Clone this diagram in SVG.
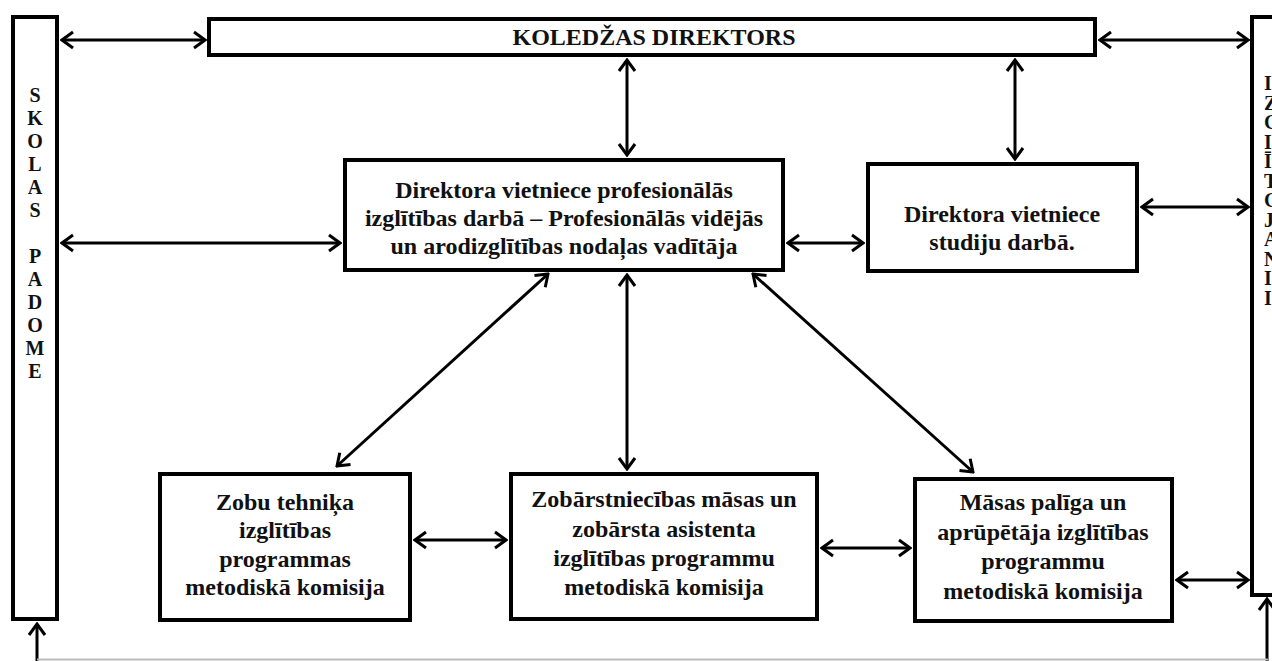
<svg xmlns="http://www.w3.org/2000/svg" width="1272" height="661" viewBox="0 0 1272 661">
<style>
.box{fill:#fff;stroke:#000;stroke-width:4}
.t{font-family:"Liberation Serif","Times New Roman",serif;font-weight:bold;font-size:24px;fill:#111;text-anchor:middle}
.v{font-family:"Liberation Serif","Times New Roman",serif;font-weight:bold;font-size:20px;fill:#111;text-anchor:middle}
.r{font-family:"Liberation Serif","Times New Roman",serif;font-weight:bold;font-size:20px;fill:#111}
.c{fill:none;stroke:#000;stroke-width:3}
</style>
<defs>
<marker id="ah" viewBox="-13 -10 15 20" refX="0" refY="0" markerWidth="15" markerHeight="20" markerUnits="userSpaceOnUse" orient="auto-start-reverse">
<path d="M-11,-8 L0,0 L-11,8" fill="none" stroke="#000" stroke-width="3"/>
</marker>
</defs>
<rect width="1272" height="661" fill="#fff"/>

<g id="connectors">
<line class="c" x1="62" y1="40" x2="205" y2="40" marker-start="url(#ah)" marker-end="url(#ah)"/>
<line class="c" x1="1100" y1="40" x2="1248" y2="40" marker-start="url(#ah)" marker-end="url(#ah)"/>
<line class="c" x1="627" y1="60" x2="627" y2="155" marker-start="url(#ah)" marker-end="url(#ah)"/>
<line class="c" x1="1015" y1="60" x2="1015" y2="159" marker-start="url(#ah)" marker-end="url(#ah)"/>
<line class="c" x1="62" y1="243" x2="340" y2="243" marker-start="url(#ah)" marker-end="url(#ah)"/>
<line class="c" x1="788" y1="243" x2="863" y2="243" marker-start="url(#ah)" marker-end="url(#ah)"/>
<line class="c" x1="1142" y1="207" x2="1248" y2="207" marker-start="url(#ah)" marker-end="url(#ah)"/>
<line class="c" x1="548" y1="274" x2="337" y2="466" marker-start="url(#ah)" marker-end="url(#ah)"/>
<line class="c" x1="627" y1="275" x2="627" y2="469" marker-start="url(#ah)" marker-end="url(#ah)"/>
<line class="c" x1="753" y1="274" x2="973" y2="472" marker-start="url(#ah)" marker-end="url(#ah)"/>
<line class="c" x1="415" y1="540" x2="506" y2="540" marker-start="url(#ah)" marker-end="url(#ah)"/>
<line class="c" x1="822" y1="548" x2="910" y2="548" marker-start="url(#ah)" marker-end="url(#ah)"/>
<line class="c" x1="1177" y1="580" x2="1248" y2="580" marker-start="url(#ah)" marker-end="url(#ah)"/>
<line class="c" x1="37" y1="661" x2="37" y2="624" marker-end="url(#ah)"/>
<line class="c" x1="1267" y1="661" x2="1267" y2="599" marker-end="url(#ah)"/>
<line x1="37" y1="659.5" x2="1268" y2="659.5" stroke="#bbb" stroke-width="2"/>
</g>

<g id="skolas-padome">
<rect class="box" x="13" y="17" width="44" height="602"/>
<text class="v" x="35" y="102">S</text>
<text class="v" x="35" y="125">K</text>
<text class="v" x="35" y="148">O</text>
<text class="v" x="35" y="171">L</text>
<text class="v" x="35" y="194">A</text>
<text class="v" x="35" y="217">S</text>
<text class="v" x="35" y="263">P</text>
<text class="v" x="35" y="286">A</text>
<text class="v" x="35" y="309">D</text>
<text class="v" x="35" y="332">O</text>
<text class="v" x="35" y="355">M</text>
<text class="v" x="35" y="378">E</text>
</g>

<g id="direktors">
<rect class="box" x="209" y="19" width="886" height="36"/>
<text class="t" x="654" y="45">KOLEDŽAS DIREKTORS</text>
</g>

<g id="right-box">
<rect class="box" x="1252" y="17" width="40" height="578"/>
<text class="r" x="1264" y="90">I</text>
<text class="r" x="1264" y="110">Z</text>
<text class="r" x="1264" y="129">G</text>
<text class="r" x="1264" y="149">I</text>
<text class="r" x="1264" y="168">Ī</text>
<text class="r" x="1264" y="188">T</text>
<text class="r" x="1264" y="207">G</text>
<text class="r" x="1264" y="227">J</text>
<text class="r" x="1264" y="246">A</text>
<text class="r" x="1264" y="266">N</text>
<text class="r" x="1264" y="285">I</text>
<text class="r" x="1264" y="305">I</text>
</g>

<g id="vietniece-prof">
<rect class="box" x="345" y="160" width="438" height="110"/>
<text class="t" x="564" y="198">Direktora vietniece profesionālās</text>
<text class="t" x="564" y="226">izglītības darbā – Profesionālās vidējās</text>
<text class="t" x="564" y="254">un arodizglītības nodaļas vadītāja</text>
</g>

<g id="vietniece-studiju">
<rect class="box" x="868" y="164" width="269" height="107"/>
<text class="t" x="1002" y="222">Direktora vietniece</text>
<text class="t" x="1002" y="250">studiju darbā.</text>
</g>

<g id="zobu-tehnika">
<rect class="box" x="160" y="474" width="250" height="146"/>
<text class="t" x="285" y="510">Zobu tehniķa</text>
<text class="t" x="285" y="538">izglītības</text>
<text class="t" x="285" y="567">programmas</text>
<text class="t" x="285" y="595">metodiskā komisija</text>
</g>

<g id="zobarstniecibas">
<rect class="box" x="511" y="474" width="306" height="145"/>
<text class="t" x="664" y="507">Zobārstniecības māsas un</text>
<text class="t" x="664" y="537">zobārsta asistenta</text>
<text class="t" x="664" y="566">izglītības programmu</text>
<text class="t" x="664" y="595">metodiskā komisija</text>
</g>

<g id="masas-paliga">
<rect class="box" x="915" y="479" width="257" height="142"/>
<text class="t" x="1043" y="510">Māsas palīga un</text>
<text class="t" x="1043" y="540">aprūpētāja izglītības</text>
<text class="t" x="1043" y="569">programmu</text>
<text class="t" x="1043" y="599">metodiskā komisija</text>
</g>
</svg>
